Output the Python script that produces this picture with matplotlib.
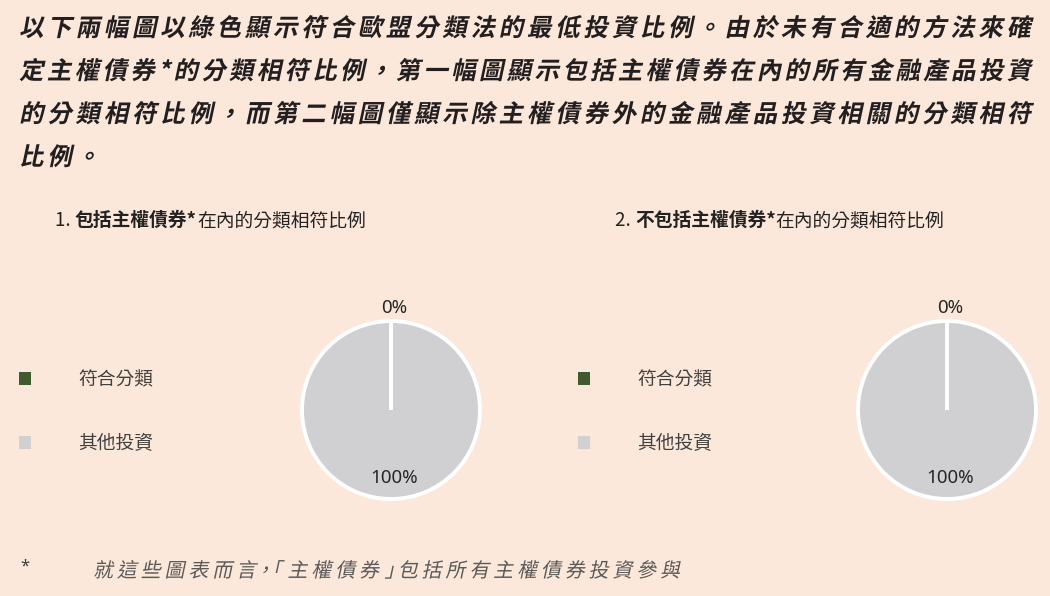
"""Taxonomy-alignment pie charts (with / without sovereign bonds)."""

import math

import matplotlib

matplotlib.use("Agg")
import matplotlib.pyplot as plt
from matplotlib.font_manager import FontProperties
from matplotlib.patches import Patch, PathPatch
from matplotlib.textpath import TextPath
from matplotlib.transforms import Affine2D

CJK = ["Noto Sans CJK TC", "DejaVu Sans"]
LATIN = ["Noto Sans", "Noto Sans CJK TC", "DejaVu Sans"]
plt.rcParams["font.family"] = CJK

BG = "#FCE8DA"
GREEN = "#3F5B2F"
GREY = "#D0D0D2"
INK = "#231F20"

# --- data -------------------------------------------------------------------
heading_lines = [
    "以下兩幅圖以綠色顯示符合歐盟分類法的最低投資比例。由於未有合適的方法來確",
    "定主權債券*的分類相符比例，第一幅圖顯示包括主權債券在內的所有金融產品投資",
    "的分類相符比例，而第二幅圖僅顯示除主權債券外的金融產品投資相關的分類相符",
    "比例。",
]
footnote = "就這些圖表而言，「主權債券」包括所有主權債券投資參與"

categories = ["符合分類", "其他投資"]
category_colors = [GREEN, GREY]

chart_titles = [
    ("1. ", "包括主權債券*", "在內的分類相符比例"),
    ("2. ", "不包括主權債券*", "在內的分類相符比例"),
]
share_incl_sovereign = [0, 100]
share_excl_sovereign = [0, 100]
chart_shares = [share_incl_sovereign, share_excl_sovereign]

# --- layout (pixels, y measured from the top) ------------------------------
W, H = 1050, 596
PIE_CENTERS = [(391, 410), (947, 410)]
PIE_R = 89
LEGEND_X = [19, 578]
TITLE_X = [55, 615]
NARROW_PUNCT = "，「」"


def slanted_text(ax, x, y, text, size, color, *, width=None, tracking=0.0,
                 weight="normal", slant=12, proportional_punct=False):
    """Draw a line glyph by glyph (faux italic); optionally justify to width."""
    prop = FontProperties(family=CJK, weight=weight, size=size)
    glyphs = []
    for ch in text:
        glyph = TextPath((0, 0), ch, size=size, prop=prop)
        shift, advance = 0.0, size * (0.5 if ord(ch) < 128 else 1.0)
        if proportional_punct and ch in NARROW_PUNCT:
            ext = glyph.get_extents()
            pad = 0.12 * size
            shift = pad - ext.x0
            advance = ext.width + 2 * pad
        glyphs.append((glyph, shift, advance))
    if width is not None and len(text) > 1:
        tracking = (width - sum(g[2] for g in glyphs)) / (len(text) - 1)
    for glyph, shift, advance in glyphs:
        placed = Affine2D().skew_deg(slant, 0).scale(1, -1).translate(x + shift, y)
        ax.add_patch(
            PathPatch(placed.transform_path(glyph), facecolor=color, edgecolor="none")
        )
        x += advance + tracking
    return tracking


fig = plt.figure(figsize=(W / 100, H / 100), dpi=100, facecolor=BG)
canvas = fig.add_axes([0, 0, 1, 1])
canvas.set_xlim(0, W)
canvas.set_ylim(H, 0)
canvas.axis("off")
renderer = fig.canvas.get_renderer()

# heading paragraph, justified like the source text block
track = 0.0
for row, line in enumerate(heading_lines):
    last = row == len(heading_lines) - 1
    track = slanted_text(canvas, 19, 36 + 43 * row, line, 24.5, INK,
                         width=None if last else 1012, tracking=track,
                         weight="bold")

# footnote
canvas.text(20, 567, "*", fontsize=12, color="#404040", va="center", family=LATIN)
slanted_text(canvas, 93, 577, footnote, 20, "#5A5A5A", width=587,
             proportional_punct=True)

for idx, (shares, (cx, cy)) in enumerate(zip(chart_shares, PIE_CENTERS)):
    # chart title: regular number, bold subject, regular tail
    x = TITLE_X[idx]
    for part, weight in zip(chart_titles[idx], ["normal", "bold", "normal"]):
        t = canvas.text(x, 226, part, fontsize=13.5, weight=weight, color="#222222",
                        va="baseline", ha="left")
        x += t.get_window_extent(renderer).width

    half = 100
    ax = fig.add_axes([(cx - half) / W, (H - cy - half) / H, 2 * half / W, 2 * half / H])
    wedges, _ = ax.pie(
        shares,
        colors=category_colors,
        startangle=90,
        counterclock=False,
        radius=1.0,
        wedgeprops={"edgecolor": "white", "linewidth": 2.8},
    )
    # radial separators at each wedge boundary (a 0 % slice still leaves one)
    for wedge in wedges:
        ang = math.radians(wedge.theta2)
        ax.plot([0, math.cos(ang)], [0, math.sin(ang)], color="white",
                linewidth=2.6, solid_capstyle="butt", zorder=5)
    lim = half / PIE_R
    ax.set_xlim(-lim, lim)
    ax.set_ylim(-lim, lim)
    ax.set_aspect("equal")
    ax.axis("off")

    total = sum(shares)
    for wedge, value in zip(wedges, shares):
        mid = math.radians((wedge.theta1 + wedge.theta2) / 2)
        pct = 100 * value / total
        dist = 1.15 if pct < 5 else 0.76
        ax.text(
            dist * math.cos(mid) + 0.04,
            dist * math.sin(mid),
            f"{pct:.0f}%",
            ha="center",
            va="center",
            fontsize=13.5,
            color="#262626",
            family=LATIN,
            zorder=6,
        )

    handles = [Patch(facecolor=c, edgecolor="none") for c in category_colors]
    ax.legend(
        handles,
        categories,
        loc="upper left",
        bbox_to_anchor=(LEGEND_X[idx] / W, 1 - 369 / H),
        bbox_transform=fig.transFigure,
        frameon=False,
        fontsize=13.5,
        labelcolor="#404040",
        handlelength=0.66,
        handleheight=0.66,
        handletextpad=2.5,
        labelspacing=2.3,
        borderpad=0,
        borderaxespad=0,
    )

fig.savefig("out.png", dpi=100, facecolor=BG)
